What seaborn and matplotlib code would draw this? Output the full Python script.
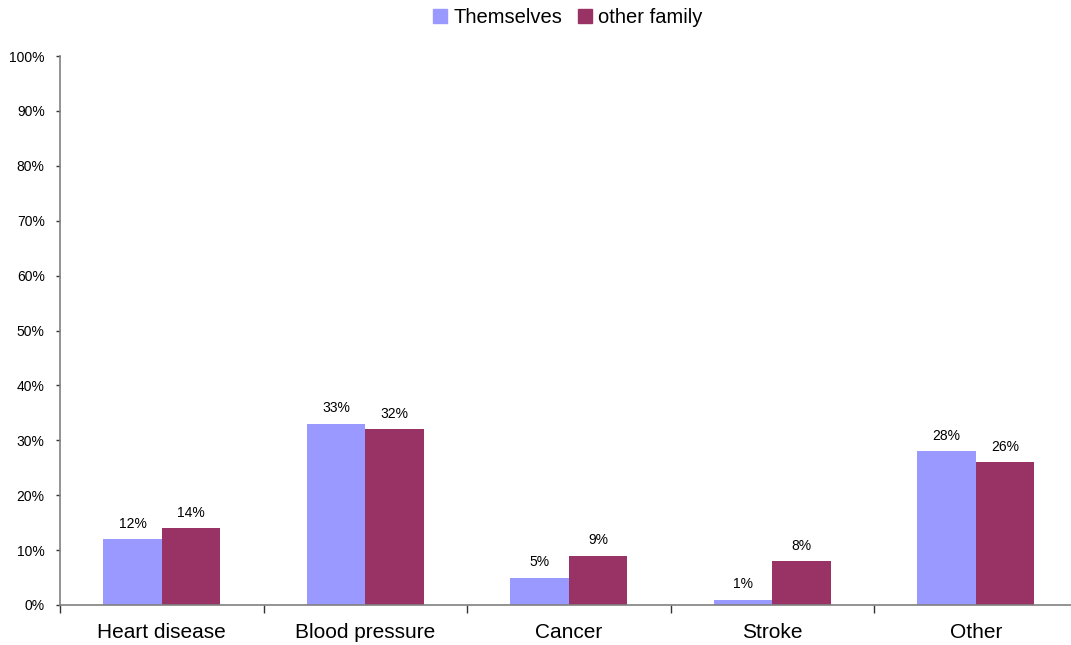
import matplotlib
matplotlib.use("Agg")
import matplotlib.pyplot as plt
import seaborn as sns
import pandas as pd
import numpy as np
from matplotlib.ticker import FixedLocator, FuncFormatter

# data
categories = ["Heart disease", "Blood pressure", "Cancer", "Stroke", "Other"]
series = ["Themselves", "other family"]
themselves = [12, 33, 5, 1, 28]
other_family = [14, 32, 9, 8, 26]
colors = ["#9999FF", "#993366"]

df = pd.DataFrame({
    "category": categories * 2,
    "who": [series[0]] * len(categories) + [series[1]] * len(categories),
    "pct": themselves + other_family,
})

sns.set_style("white")
plt.rcParams["font.family"] = ["Liberation Sans", "DejaVu Sans"]
plt.rcParams["text.color"] = "black"
plt.rcParams["xtick.color"] = "black"
plt.rcParams["ytick.color"] = "black"

fig = plt.figure(figsize=(10.71, 6.45), dpi=100)
ax = fig.add_axes([60 / 1071, 40 / 645, 1017.5 / 1071, 549 / 645])

sns.barplot(data=df, x="category", y="pct", hue="who", order=categories,
            hue_order=series, palette=colors, width=0.575, saturation=1,
            linewidth=0, ax=ax, legend=False)

for cont in ax.containers:
    ax.bar_label(cont, fmt="%d%%", padding=6, fontsize=10, color="black")

ax.set_xlim(-0.5, len(categories) - 0.5)
ax.set_ylim(0, 100)
ax.yaxis.set_major_locator(FixedLocator(np.arange(0, 101, 10)))
ax.yaxis.set_major_formatter(FuncFormatter(lambda v, p: f"{int(v)}%"))
ax.set_xlabel("")
ax.set_ylabel("")

# tick marks at category boundaries, labels centred
ax.set_xticks(range(len(categories)))
ax.set_xticklabels(categories, fontsize=15)
ax.set_xticks(np.arange(-0.5, len(categories), 1), minor=True)
ax.tick_params(axis="x", which="major", length=0, pad=13)
ax.tick_params(axis="x", which="minor", length=6, width=1, color="#333333", direction="out", bottom=True)
ax.tick_params(axis="y", which="major", length=3, width=1, color="#333333", direction="out",
               left=True, labelsize=10, pad=8)

for s in ["top", "right"]:
    ax.spines[s].set_visible(False)
for s in ["left", "bottom"]:
    ax.spines[s].set_color("#808080")
    ax.spines[s].set_linewidth(1.2)

handles = [plt.Rectangle((0, 0), 1, 1, color=c) for c in colors]
fig.legend(handles, series, loc="upper center", bbox_to_anchor=(568 / 1071, 1.015),
           ncol=2, frameon=False, fontsize=14.5, handlelength=0.7, handleheight=0.7,
           handletextpad=0.3, columnspacing=0.8)

fig.savefig("out.png", dpi=100)
